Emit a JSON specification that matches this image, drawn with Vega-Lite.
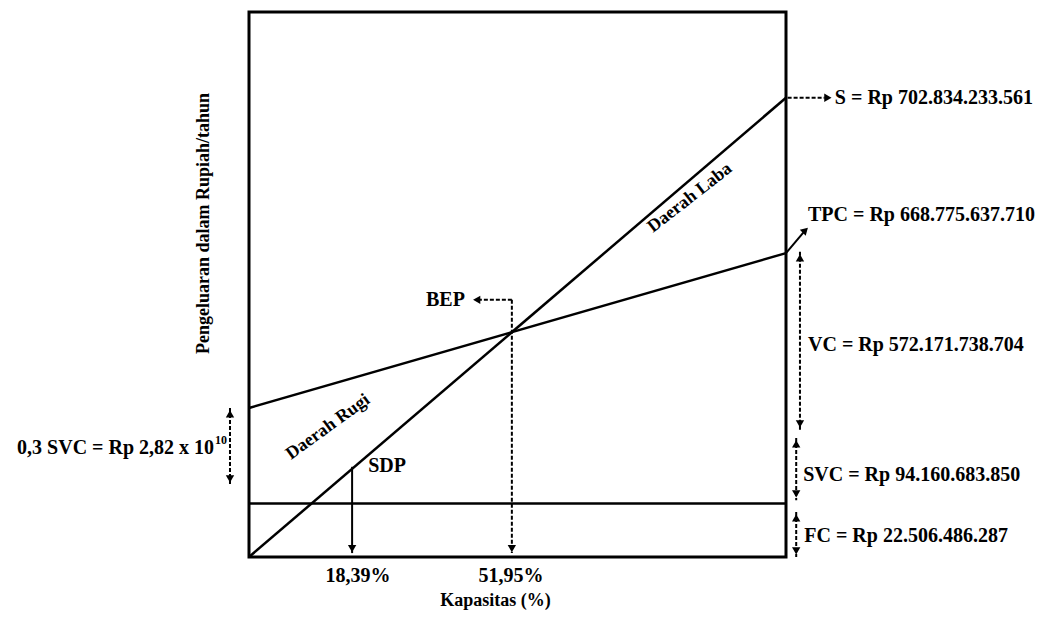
{
  "$schema": "https://vega.github.io/schema/vega-lite/v6.json",
  "autosize": "none",
  "width": 537,
  "height": 545,
  "padding": {"left": 249, "top": 12, "right": 256, "bottom": 60},
  "background": "white",
  "config": {
    "view": {"stroke": "black", "strokeWidth": 3},
    "font": "Liberation Serif",
    "axis": {"labels": false, "ticks": false, "domain": false, "grid": false, "titleColor": "black", "titleFont": "Liberation Serif", "titleFontWeight": "bold"}
  },
  "datasets": {
    "lines": [
      {"series": "S", "x": 0, "y": 0}, {"series": "S", "x": 100, "y": 702.8},
      {"series": "TPC", "x": 0, "y": 228}, {"series": "TPC", "x": 100, "y": 465},
      {"series": "FC", "x": 0, "y": 82}, {"series": "FC", "x": 100, "y": 82}
    ],
    "solidArrows": [
      {"name": "SDP", "x": 19.2, "y": 138, "x2": 19.2, "y2": 6},
      {"name": "TPC", "x": 100, "y": 465, "x2": 103.3, "y2": 497}
    ],
    "dashedArrows": [
      {"name": "S", "x": 100.3, "y": 702.8, "x2": 107.2, "y2": 702.8},
      {"name": "BEP v", "x": 48.95, "y": 393.5, "x2": 48.95, "y2": 6},
      {"name": "BEP h", "x": 48.95, "y": 393.5, "x2": 42.6, "y2": 393.5},
      {"name": "VC", "x": 102.6, "y": 467, "x2": 102.6, "y2": 194},
      {"name": "SVC", "x": 101.9, "y": 182, "x2": 101.9, "y2": 87},
      {"name": "FC", "x": 101.9, "y": 69, "x2": 101.9, "y2": 0},
      {"name": "0.3 SVC", "x": -3.54, "y": 228, "x2": -3.54, "y2": 110}
    ],
    "heads": [
      {"dir": "down", "x": 19.2, "y": 13},
      {"dir": "down", "x": 48.95, "y": 13},
      {"dir": "down", "x": 102.6, "y": 203.6},
      {"dir": "down", "x": 101.9, "y": 96.5},
      {"dir": "down", "x": 101.9, "y": 9.2},
      {"dir": "down", "x": -3.54, "y": 119.4},
      {"dir": "up", "x": 102.6, "y": 457.8},
      {"dir": "up", "x": 101.9, "y": 173},
      {"dir": "up", "x": 101.9, "y": 59.7},
      {"dir": "up", "x": -3.54, "y": 218.9},
      {"dir": "left", "x": 42.4, "y": 393.5},
      {"dir": "right", "x": 107.8, "y": 702.8}
    ],
    "diagHead": [{"x": 103.6, "y": 500}],
    "labelsLeft": [
      {"text": "S = Rp 702.834.233.561", "x": 109.1, "y": 702.8},
      {"text": "TPC = Rp 668.775.637.710", "x": 104.1, "y": 523.6},
      {"text": "VC = Rp 572.171.738.704", "x": 104.1, "y": 324.6},
      {"text": "SVC = Rp 94.160.683.850", "x": 103.2, "y": 125.5},
      {"text": "FC = Rp 22.506.486.287", "x": 103.4, "y": 32.2},
      {"text": "SDP", "x": 22.2, "y": 139.3}
    ],
    "labelsRight": [
      {"text": "0,3 SVC = Rp 2,82 x 10", "x": -6.5, "y": 166.9},
      {"text": "BEP", "x": 40.2, "y": 393.5}
    ],
    "superscript": [{"text": "10", "x": -6.33, "y": 179.1}],
    "xLabels": [
      {"text": "18,39%", "x": 20.3, "y": 0},
      {"text": "51,95%", "x": 48.8, "y": 0}
    ],
    "rugi": [{"text": "Daerah Rugi", "x": 14.7, "y": 199}],
    "laba": [{"text": "Daerah Laba", "x": 82.1, "y": 549.6}]
  },
  "encoding": {
    "x": {"field": "x", "type": "quantitative", "scale": {"domain": [0, 100], "nice": false, "zero": false},
      "axis": {"title": "Kapasitas (%)", "titleFontSize": 18, "titleX": 246, "titleY": 43, "titleBaseline": "middle", "titleAlign": "center"}},
    "y": {"field": "y", "type": "quantitative", "scale": {"domain": [0, 834], "nice": false, "zero": false},
      "axis": {"title": "Pengeluaran dalam Rupiah/tahun", "titleFontSize": 18, "titleX": -46, "titleY": 211, "titleBaseline": "middle", "titleAlign": "center", "titleAngle": 270}}
  },
  "layer": [
    {"data": {"name": "lines"}, "mark": {"type": "line", "color": "black", "strokeWidth": 2.5}, "encoding": {"detail": {"field": "series"}}},
    {"data": {"name": "solidArrows"}, "mark": {"type": "rule", "color": "black", "strokeWidth": 2}, "encoding": {"x2": {"field": "x2"}, "y2": {"field": "y2"}}},
    {"data": {"name": "dashedArrows"}, "mark": {"type": "rule", "color": "black", "strokeWidth": 2, "strokeDash": [4, 2]}, "encoding": {"x2": {"field": "x2"}, "y2": {"field": "y2"}}},
    {"data": {"name": "heads"}, "mark": {"type": "point", "filled": true, "color": "black", "size": 70, "opacity": 1},
      "encoding": {"shape": {"field": "dir", "type": "nominal", "scale": {"domain": ["up", "down", "left", "right"], "range": ["triangle-up", "triangle-down", "triangle-left", "triangle-right"]}, "legend": null}}},
    {"data": {"name": "diagHead"}, "mark": {"type": "point", "filled": true, "color": "black", "size": 70, "opacity": 1, "shape": "triangle-up", "angle": 45}},
    {"data": {"name": "labelsLeft"}, "mark": {"type": "text", "align": "left", "baseline": "middle", "fontSize": 20, "fontWeight": "bold", "color": "black"}, "encoding": {"text": {"field": "text"}}},
    {"data": {"name": "labelsRight"}, "mark": {"type": "text", "align": "right", "baseline": "middle", "fontSize": 20, "fontWeight": "bold", "color": "black"}, "encoding": {"text": {"field": "text"}}},
    {"data": {"name": "superscript"}, "mark": {"type": "text", "align": "left", "baseline": "middle", "fontSize": 12, "fontWeight": "bold", "color": "black"}, "encoding": {"text": {"field": "text"}}},
    {"data": {"name": "xLabels"}, "mark": {"type": "text", "align": "center", "baseline": "middle", "dy": 19, "fontSize": 20, "fontWeight": "bold", "color": "black"}, "encoding": {"text": {"field": "text"}}},
    {"data": {"name": "rugi"}, "mark": {"type": "text", "align": "center", "baseline": "middle", "angle": -36, "fontSize": 18, "fontWeight": "bold", "color": "black"}, "encoding": {"text": {"field": "text"}}},
    {"data": {"name": "laba"}, "mark": {"type": "text", "align": "center", "baseline": "middle", "angle": -38, "fontSize": 18, "fontWeight": "bold", "color": "black"}, "encoding": {"text": {"field": "text"}}}
  ]
}
